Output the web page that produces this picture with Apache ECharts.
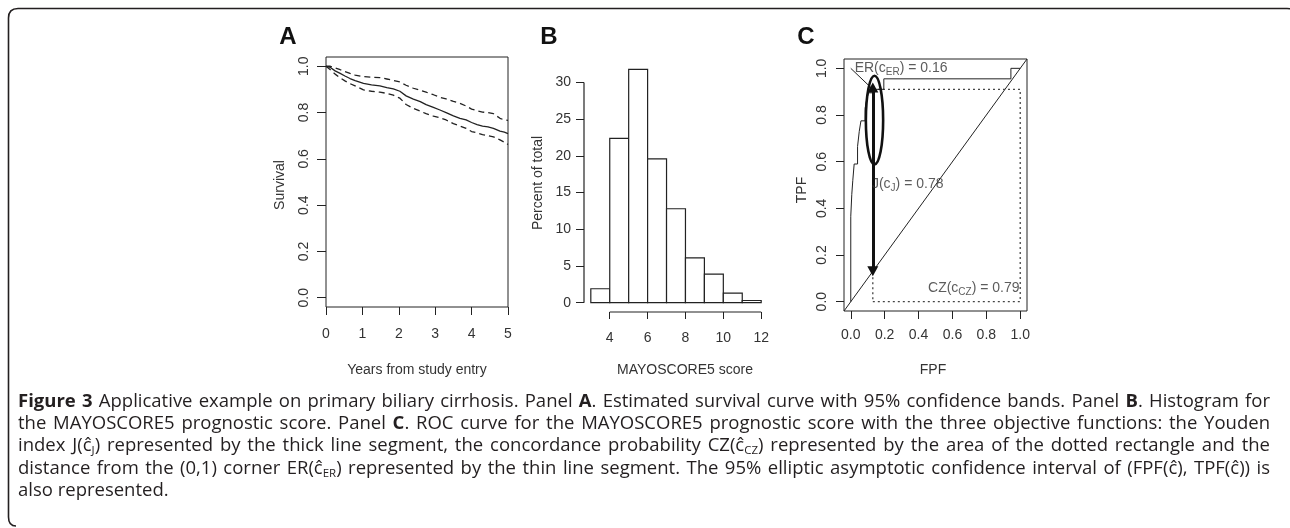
<!DOCTYPE html>
<html><head><meta charset="utf-8">
<script src="https://cdn.jsdelivr.net/npm/echarts@6/dist/echarts.min.js"></script>
<style>
html,body{margin:0;padding:0;background:#fff;}
#wrap{position:relative;width:1290px;height:528px;overflow:hidden;}
#chart{position:absolute;left:0;top:0;width:1290px;height:528px;}
#frame{position:absolute;left:0;top:0;width:1290px;height:528px;pointer-events:none;}
#cap{position:absolute;left:18px;top:389px;width:1252px;font-family:'Open Sans','Noto Sans',sans-serif;font-size:17px;line-height:22.2px;color:#231f20;}
#cap .ln{white-space:nowrap;height:22.2px;line-height:22.2px;}
#cap .ln span.t{display:inline-block;white-space:nowrap;}
#cap sub{font-size:0.62em;line-height:0;vertical-align:-0.22em;}
</style></head><body>
<div id="wrap"><div id="chart"></div>
<svg id="frame" width="1290" height="528"><path d="M 1296 16 Q 1296 8.5 1287 8.5 L 18 8.5 Q 8.5 8.5 8.5 18 L 8.5 517 Q 8.5 526 16 526" fill="none" stroke="#231f20" stroke-width="1.6"/></svg>
<div id="cap"></div></div>
<script>
// ---------- Panel A: Kaplan-Meier survival ----------
const survTime  = [0, 0.12, 0.25, 0.39, 0.52, 0.66, 0.8, 1.03, 1.25, 1.48, 1.67, 1.85, 2.03, 2.2, 2.4, 2.59, 2.75, 2.95, 3.13, 3.3, 3.5, 3.68, 3.85, 4.0, 4.15, 4.3, 4.45, 4.6, 4.78, 4.9, 5.0];
const survEst   = [1.0, 0.995, 0.98, 0.969, 0.958, 0.947, 0.938, 0.926, 0.92, 0.915, 0.908, 0.902, 0.892, 0.872, 0.858, 0.847, 0.834, 0.822, 0.811, 0.800, 0.786, 0.775, 0.768, 0.757, 0.748, 0.741, 0.738, 0.732, 0.72, 0.715, 0.709];
const survUpper = [1.0, 1.0, 0.993, 0.985, 0.977, 0.969, 0.962, 0.955, 0.953, 0.951, 0.945, 0.939, 0.932, 0.918, 0.905, 0.896, 0.888, 0.877, 0.866, 0.859, 0.848, 0.840, 0.828, 0.815, 0.808, 0.802, 0.800, 0.795, 0.775, 0.768, 0.766];
const survLower = [1.0, 0.985, 0.966, 0.95, 0.937, 0.925, 0.915, 0.898, 0.892, 0.888, 0.883, 0.875, 0.862, 0.835, 0.818, 0.806, 0.795, 0.785, 0.778, 0.768, 0.752, 0.742, 0.732, 0.718, 0.712, 0.705, 0.700, 0.695, 0.682, 0.672, 0.662];
const survTicksX = [0, 1, 2, 3, 4, 5];
const survTicksY = [0, 0.2, 0.4, 0.6, 0.8, 1.0];

// ---------- Panel B: histogram ----------
const histBinStart = [3, 4, 5, 6, 7, 8, 9, 10, 11];
const histBinEnd   = [4, 5, 6, 7, 8, 9, 10, 11, 12];
const histPercent  = [1.9, 22.4, 31.8, 19.6, 12.8, 6.1, 3.9, 1.3, 0.3];
const histTicksX = [4, 6, 8, 10, 12];
const histTicksY = [0, 5, 10, 15, 20, 25, 30];

// ---------- Panel C: ROC ----------
const rocFPF = [0, 0, 0.006, 0.012, 0.02, 0.04, 0.05, 0.06, 0.085, 0.095, 0.105, 0.13, 0.195, 0.945, 1.0];
const rocTPF = [0, 0.366, 0.46, 0.52, 0.59, 0.665, 0.73, 0.775, 0.83, 0.87, 0.895, 0.91, 0.955, 1.0, 1.0];
const rocTicks = [0, 0.2, 0.4, 0.6, 0.8, 1.0];
const cutFPF = 0.13, cutTPF = 0.91;          // optimal cut-point
const ellipseCenter = [0.14, 0.778];
const ellipseRadii  = [0.051, 0.19];
const noteTexts = ['{m|ER(c}{s|ER}{m|) = 0.16}', '{m|J(c}{s|J}{m|) = 0.78}', '{m|CZ(c}{s|CZ}{m|) = 0.79}'];
const noteFPF = [0.023, 0.125, 0.456];
const noteTPF = [1.0, 0.502, 0.058];

// axis ranges (R-style 4% extension)
const A_X = [0, 5], A_Y = [-0.04, 1.04];
const B_X = [2.64, 12.36], B_Y = [-1.27, 33.07];
const C_X = [-0.04, 1.04], C_Y = [-0.04, 1.04];

const FONT = "'Liberation Sans', Arial, sans-serif";
const TXT = '#333', INK = '#222';

function xAx(grid, rng, ticks, fmt, margin, len) {
  return { type: 'value', gridIndex: grid, min: rng[0], max: rng[1], position: 'bottom',
    axisLine: { show: false, onZero: false }, splitLine: { show: false },
    axisTick: { show: true, length: len, customValues: ticks, lineStyle: { color: INK, width: 1 } },
    axisLabel: { show: true, customValues: ticks, formatter: fmt, margin: margin, fontSize: 14, color: TXT, fontFamily: FONT } };
}
function yAx(grid, rng, ticks, fmt, margin, len, rot) {
  return { type: 'value', gridIndex: grid, min: rng[0], max: rng[1], position: 'left',
    axisLine: { show: false, onZero: false }, splitLine: { show: false },
    axisTick: { show: true, length: len, customValues: ticks, lineStyle: { color: INK, width: 1 } },
    axisLabel: { show: true, customValues: ticks, formatter: fmt, margin: margin, rotate: rot, fontSize: 14, color: TXT, fontFamily: FONT } };
}
const f1 = v => Number(v).toFixed(1);
const f0 = v => String(Math.round(v));

const zip = (a, b) => a.map((v, i) => [v, b[i]]);

function ellipsePath(cx, cy, rx, ry) {
  const k = 0.5523;
  const ox = rx * k, oy = ry * k;
  return 'M ' + (cx - rx) + ' ' + cy +
    ' C ' + (cx - rx) + ' ' + (cy - oy) + ' ' + (cx - ox) + ' ' + (cy - ry) + ' ' + cx + ' ' + (cy - ry) +
    ' C ' + (cx + ox) + ' ' + (cy - ry) + ' ' + (cx + rx) + ' ' + (cy - oy) + ' ' + (cx + rx) + ' ' + cy +
    ' C ' + (cx + rx) + ' ' + (cy + oy) + ' ' + (cx + ox) + ' ' + (cy + ry) + ' ' + cx + ' ' + (cy + ry) +
    ' C ' + (cx - ox) + ' ' + (cy + ry) + ' ' + (cx - rx) + ' ' + (cy + oy) + ' ' + (cx - rx) + ' ' + cy + ' Z';
}

const chart = echarts.init(document.getElementById('chart'), null, { renderer: 'canvas' });
const option = {
  animation: false,
  backgroundColor: '#fff',
  grid: [
    { left: 326, top: 57, width: 182, height: 250, show: true, borderColor: INK, borderWidth: 1, backgroundColor: 'transparent', outerBoundsMode: 'none', containLabel: false },
    { left: 584, top: 60, width: 184, height: 252, show: false, outerBoundsMode: 'none', containLabel: false },
    { left: 844, top: 59, width: 183, height: 252, show: true, borderColor: INK, borderWidth: 1, backgroundColor: 'transparent', outerBoundsMode: 'none', containLabel: false }
  ],
  xAxis: [
    xAx(0, A_X, survTicksX, f0, 20, 8),
    xAx(1, B_X, histTicksX, f0, 19, 7),
    xAx(2, C_X, rocTicks, f1, 17, 8)
  ],
  yAxis: [
    yAx(0, A_Y, survTicksY, f1, 15, 9, 90),
    yAx(1, B_Y, histTicksY, f0, 13, 8, 0),
    yAx(2, C_Y, rocTicks, f1, 15, 8, 90)
  ],
  series: [
    // Panel A
    { type: 'line', xAxisIndex: 0, yAxisIndex: 0, data: zip(survTime, survEst), symbol: 'none', lineStyle: { color: INK, width: 1.3 }, z: 3 },
    { type: 'line', xAxisIndex: 0, yAxisIndex: 0, data: zip(survTime, survUpper), symbol: 'none', lineStyle: { color: INK, width: 1.3, type: [6, 4] }, z: 3 },
    { type: 'line', xAxisIndex: 0, yAxisIndex: 0, data: zip(survTime, survLower), symbol: 'none', lineStyle: { color: INK, width: 1.3, type: [6, 4] }, z: 3 },
    // Panel B bars
    { type: 'custom', xAxisIndex: 1, yAxisIndex: 1,
      data: histBinStart.map((s, i) => [s, histBinEnd[i], histPercent[i]]),
      encode: { x: [0, 1], y: 2 },
      renderItem: function (params, api) {
        const p0 = api.coord([api.value(0), 0]);
        const p1 = api.coord([api.value(1), api.value(2)]);
        return { type: 'rect', shape: { x: p0[0], y: p1[1], width: p1[0] - p0[0], height: p0[1] - p1[1] },
          style: { fill: '#fff', stroke: INK, lineWidth: 1.2 } };
      } },
    // Panel B axis lines (R style, from first to last tick)
    { type: 'line', xAxisIndex: 1, yAxisIndex: 1, clip: false, symbol: 'none',
      data: [[histTicksX[0], B_Y[0]], [histTicksX[histTicksX.length - 1], B_Y[0]]], lineStyle: { color: INK, width: 1.2 } },
    { type: 'line', xAxisIndex: 1, yAxisIndex: 1, clip: false, symbol: 'none',
      data: [[B_X[0], histTicksY[0]], [B_X[0], histTicksY[histTicksY.length - 1]]], lineStyle: { color: INK, width: 1.2 } },
    // Panel C
    { type: 'line', xAxisIndex: 2, yAxisIndex: 2, data: [[C_X[0], C_Y[0]], [C_X[1], C_Y[1]]], symbol: 'none', lineStyle: { color: INK, width: 1 }, z: 2 },
    { type: 'line', xAxisIndex: 2, yAxisIndex: 2, data: [[cutFPF, 0], [1, 0], [1, cutTPF], [cutFPF, cutTPF], [cutFPF, 0]], symbol: 'none',
      lineStyle: { color: '#444', width: 1.3, type: [2, 3] }, z: 2 },
    { type: 'line', xAxisIndex: 2, yAxisIndex: 2, data: zip(rocFPF, rocTPF), step: 'end', symbol: 'none', lineStyle: { color: INK, width: 1 }, z: 3 },
    { type: 'line', xAxisIndex: 2, yAxisIndex: 2, data: [[0, 1], [cutFPF, cutTPF]], symbol: 'none', lineStyle: { color: INK, width: 1 }, z: 4,
      markLine: { silent: true, symbol: ['triangle', 'triangle'], symbolSize: [11, 10], label: { show: false },
        lineStyle: { color: '#111', width: 3, type: 'solid' },
        data: [[{ coord: [cutFPF, cutFPF] }, { coord: [cutFPF, cutTPF + 0.008] }]] } },
    { type: 'custom', xAxisIndex: 2, yAxisIndex: 2, z: 5,
      data: [[ellipseCenter[0], ellipseCenter[1], ellipseRadii[0], ellipseRadii[1]]],
      renderItem: function (params, api) {
        const c = api.coord([api.value(0), api.value(1)]);
        const s = api.size([api.value(2), api.value(3)]);
        return { type: 'path', shape: { pathData: ellipsePath(c[0], c[1], s[0], s[1]) },
          style: { fill: 'none', stroke: '#111', lineWidth: 2.6 } };
      } },
    { type: 'scatter', xAxisIndex: 2, yAxisIndex: 2, symbolSize: 0, silent: true, z: 6,
      data: noteFPF.map((x, i) => ({ value: [x, noteTPF[i]], label: { formatter: noteTexts[i] } })),
      label: { show: true, position: 'right', distance: 0,
        rich: { m: { fontSize: 14, color: '#333', fontFamily: FONT, lineHeight: 18 },
                s: { fontSize: 10, color: '#333', fontFamily: FONT, lineHeight: 8, verticalAlign: 'bottom' } } } }
  ],
  graphic: [
    { type: 'text', x: 288, y: 37, style: { text: 'A', font: 'bold 24px ' + FONT, fill: '#111', align: 'center', verticalAlign: 'middle' } },
    { type: 'text', x: 549, y: 37, style: { text: 'B', font: 'bold 24px ' + FONT, fill: '#111', align: 'center', verticalAlign: 'middle' } },
    { type: 'text', x: 806, y: 37, style: { text: 'C', font: 'bold 24px ' + FONT, fill: '#111', align: 'center', verticalAlign: 'middle' } },
    { type: 'text', x: 280, y: 185, rotation: Math.PI / 2, style: { text: 'Survival', font: '14px ' + FONT, fill: TXT, align: 'center', verticalAlign: 'middle' } },
    { type: 'text', x: 417, y: 370, style: { text: 'Years from study entry', font: '14px ' + FONT, fill: TXT, align: 'center', verticalAlign: 'middle' } },
    { type: 'text', x: 538, y: 183, rotation: Math.PI / 2, style: { text: 'Percent of total', font: '14px ' + FONT, fill: TXT, align: 'center', verticalAlign: 'middle' } },
    { type: 'text', x: 685, y: 370, style: { text: 'MAYOSCORE5 score', font: '14px ' + FONT, fill: TXT, align: 'center', verticalAlign: 'middle' } },
    { type: 'text', x: 802, y: 190, rotation: Math.PI / 2, style: { text: 'TPF', font: '14px ' + FONT, fill: TXT, align: 'center', verticalAlign: 'middle' } },
    { type: 'text', x: 933, y: 370, style: { text: 'FPF', font: '14px ' + FONT, fill: TXT, align: 'center', verticalAlign: 'middle' } }
  ]
};
chart.setOption(option);

// ---------- caption ----------
const capLines = [
  '<b>Figure 3</b> Applicative example on primary biliary cirrhosis. Panel <b>A</b>. Estimated survival curve with 95% confidence bands. Panel <b>B</b>. Histogram for',
  'the MAYOSCORE5 prognostic score. Panel <b>C</b>. ROC curve for the MAYOSCORE5 prognostic score with the three objective functions: the Youden',
  'index J(ĉ<sub>J</sub>) represented by the thick line segment, the concordance probability CZ(ĉ<sub>CZ</sub>) represented by the area of the dotted rectangle and the',
  'distance from the (0,1) corner ER(ĉ<sub>ER</sub>) represented by the thin line segment. The 95% elliptic asymptotic confidence interval of (FPF(ĉ), TPF(ĉ)) is',
  'also represented.'
];
const cap = document.getElementById('cap');
const TARGET = 1252;
capLines.forEach(function (h) {
  const d = document.createElement('div'); d.className = 'ln';
  const s = document.createElement('span'); s.className = 't'; s.innerHTML = h;
  d.appendChild(s); cap.appendChild(d);
});
// choose font size so the widest justified line fits naturally, then justify
const spans = Array.from(cap.querySelectorAll('.ln span.t'));
let maxW = 0;
spans.slice(0, 4).forEach(function (s) { maxW = Math.max(maxW, s.getBoundingClientRect().width); });
const fs = Math.min(18.5, 17 * (TARGET * 0.992) / maxW);
cap.style.fontSize = fs + 'px';
spans.forEach(function (s, i) {
  if (i >= 4) return;
  const w = s.getBoundingClientRect().width;
  const n = (s.textContent.match(/ /g) || []).length;
  s.style.wordSpacing = ((TARGET - w) / n) + 'px';
});
</script></body></html>
